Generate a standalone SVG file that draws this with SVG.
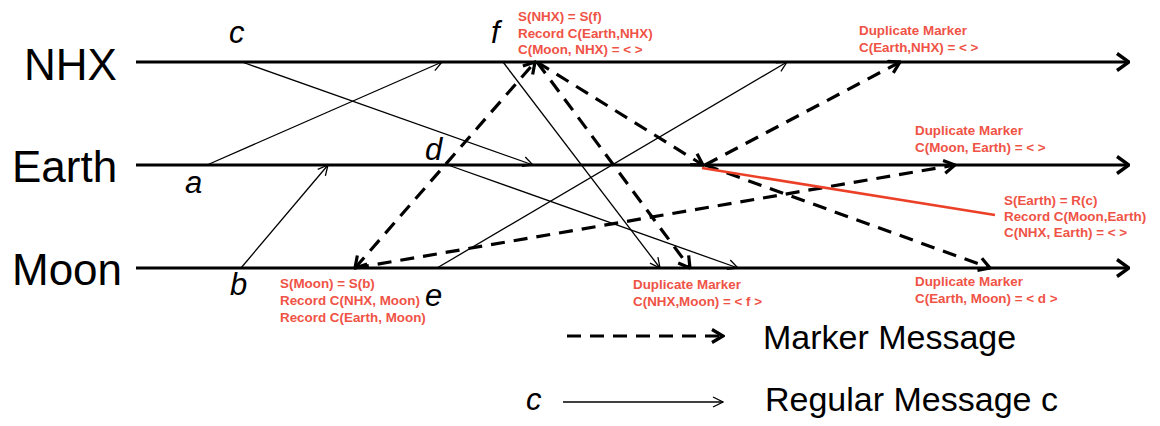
<svg xmlns="http://www.w3.org/2000/svg" width="1160" height="426" viewBox="0 0 1160 426">
  <style>
    .lane { stroke: #000; stroke-width: 3.2; fill: none; }
    .lane-label { font-family: "Liberation Sans", Arial, sans-serif; font-size: 44px; fill: #000; }
    .evt { font-family: "Liberation Sans", Arial, sans-serif; font-style: italic; font-size: 31px; fill: #000; }
    .msg { stroke: #000; stroke-width: 1.3; fill: none; }
    .mrk { stroke: #000; stroke-width: 3.2; stroke-dasharray: 14 9; fill: none; }
    .note { font-family: "Liberation Sans", Arial, sans-serif; font-weight: bold; font-size: 13.4px; fill: #ef5346; }
    .legend { font-family: "Liberation Sans", Arial, sans-serif; font-size: 34px; fill: #000; }
    .cut { stroke: #eb4027; stroke-width: 2.6; fill: none; }
  </style>
  <defs>
    <marker id="lane-head" markerUnits="userSpaceOnUse" viewBox="0 0 14 20" refX="13" refY="10" markerWidth="14" markerHeight="20" orient="auto">
      <path d="M1,1.5 L13,10 L1,18.5" fill="none" stroke="#000" stroke-width="3.4" stroke-linejoin="miter"/>
    </marker>
    <marker id="msg-head" markerUnits="userSpaceOnUse" viewBox="0 0 12 12" refX="11" refY="6" markerWidth="12" markerHeight="12" orient="auto">
      <path d="M1,1 L11,6 L1,11" fill="none" stroke="#000" stroke-width="1.3"/>
    </marker>
    <marker id="mrk-head" markerUnits="userSpaceOnUse" viewBox="0 0 14 16" refX="12.5" refY="8" markerWidth="14" markerHeight="16" orient="auto-start-reverse">
      <path d="M1.5,1.5 L12.5,8 L1.5,14.5" fill="none" stroke="#000" stroke-width="3.2"/>
    </marker>
  </defs>

  <!-- process timelines -->
  <g id="lane-nhx">
    <text class="lane-label" x="24" y="80">NHX</text>
    <line class="lane" x1="136" y1="62" x2="1129" y2="62" marker-end="url(#lane-head)"/>
  </g>
  <g id="lane-earth">
    <text class="lane-label" x="12" y="182">Earth</text>
    <line class="lane" x1="136" y1="165" x2="1129" y2="165" marker-end="url(#lane-head)"/>
  </g>
  <g id="lane-moon">
    <text class="lane-label" x="12" y="285">Moon</text>
    <line class="lane" x1="136" y1="268" x2="1129" y2="268" marker-end="url(#lane-head)"/>
  </g>

  <!-- event names -->
  <g id="events">
    <text class="evt" x="229" y="43">c</text>
    <text class="evt" x="491" y="43">f</text>
    <text class="evt" x="185" y="193">a</text>
    <text class="evt" x="425" y="160">d</text>
    <text class="evt" x="230" y="295">b</text>
    <text class="evt" x="425" y="306">e</text>
  </g>

  <!-- messages -->
  <g id="connectors">
    <!-- regular messages -->
    <line class="msg" x1="242" y1="62" x2="533" y2="165" marker-end="url(#msg-head)"/>
    <line class="msg" x1="207" y1="165" x2="442" y2="62" marker-end="url(#msg-head)"/>
    <line class="msg" x1="241" y1="268" x2="328" y2="165" marker-end="url(#msg-head)"/>
    <line class="msg" x1="448" y1="165" x2="738" y2="268" marker-end="url(#msg-head)"/>
    <line class="msg" x1="437" y1="268" x2="787" y2="62" marker-end="url(#msg-head)"/>
    <line class="msg" x1="503" y1="62" x2="660" y2="268" marker-end="url(#msg-head)"/>
    <!-- marker messages -->
    <line class="mrk" x1="355" y1="268" x2="535" y2="62" marker-start="url(#mrk-head)" marker-end="url(#mrk-head)"/>
    <line class="mrk" x1="355" y1="268" x2="955" y2="165" marker-end="url(#mrk-head)"/>
    <line class="mrk" x1="537" y1="62" x2="703" y2="165" marker-end="url(#mrk-head)"/>
    <line class="mrk" x1="537" y1="62" x2="690" y2="268" marker-end="url(#mrk-head)"/>
    <line class="mrk" x1="705" y1="165" x2="900" y2="62" marker-end="url(#mrk-head)"/>
    <line class="mrk" x1="705" y1="165" x2="990" y2="268" marker-end="url(#mrk-head)"/>
    <!-- Earth snapshot pointer -->
    <line class="cut" x1="702" y1="168" x2="995" y2="215"/>
  </g>

  <!-- annotations -->
  <g id="note-nhx">
    <text class="note" x="518" y="21">S(NHX) = S(f)</text>
    <text class="note" x="518" y="37.5">Record C(Earth,NHX)</text>
    <text class="note" x="518" y="54">C(Moon, NHX) = &lt; &gt;</text>
  </g>
  <g id="note-dup-nhx">
    <text class="note" x="859" y="35">Duplicate Marker</text>
    <text class="note" x="859" y="52">C(Earth,NHX) = &lt; &gt;</text>
  </g>
  <g id="note-dup-earth">
    <text class="note" x="915" y="135">Duplicate Marker</text>
    <text class="note" x="915" y="152">C(Moon, Earth) = &lt; &gt;</text>
  </g>
  <g id="note-earth">
    <text class="note" x="1004" y="205">S(Earth) = R(c)</text>
    <text class="note" x="1004" y="221">Record C(Moon,Earth)</text>
    <text class="note" x="1004" y="237">C(NHX, Earth) = &lt; &gt;</text>
  </g>
  <g id="note-moon">
    <text class="note" x="280" y="288">S(Moon) = S(b)</text>
    <text class="note" x="280" y="305">Record C(NHX, Moon)</text>
    <text class="note" x="280" y="322">Record C(Earth, Moon)</text>
  </g>
  <g id="note-dup-moon-nhx">
    <text class="note" x="633" y="289">Duplicate Marker</text>
    <text class="note" x="633" y="306">C(NHX,Moon) = &lt; f &gt;</text>
  </g>
  <g id="note-dup-moon-earth">
    <text class="note" x="915" y="286">Duplicate Marker</text>
    <text class="note" x="915" y="303">C(Earth, Moon) = &lt; d &gt;</text>
  </g>

  <!-- legend -->
  <g id="legend-marker">
    <line class="mrk" x1="567" y1="336" x2="723" y2="336" stroke-dasharray="16 9" marker-end="url(#mrk-head)"/>
    <text class="legend" x="763" y="349">Marker Message</text>
  </g>
  <g id="legend-regular">
    <text class="evt" x="526" y="410">c</text>
    <line class="msg" x1="563" y1="402" x2="723" y2="402" marker-end="url(#msg-head)"/>
    <text class="legend" x="765" y="411">Regular Message c</text>
  </g>
</svg>
